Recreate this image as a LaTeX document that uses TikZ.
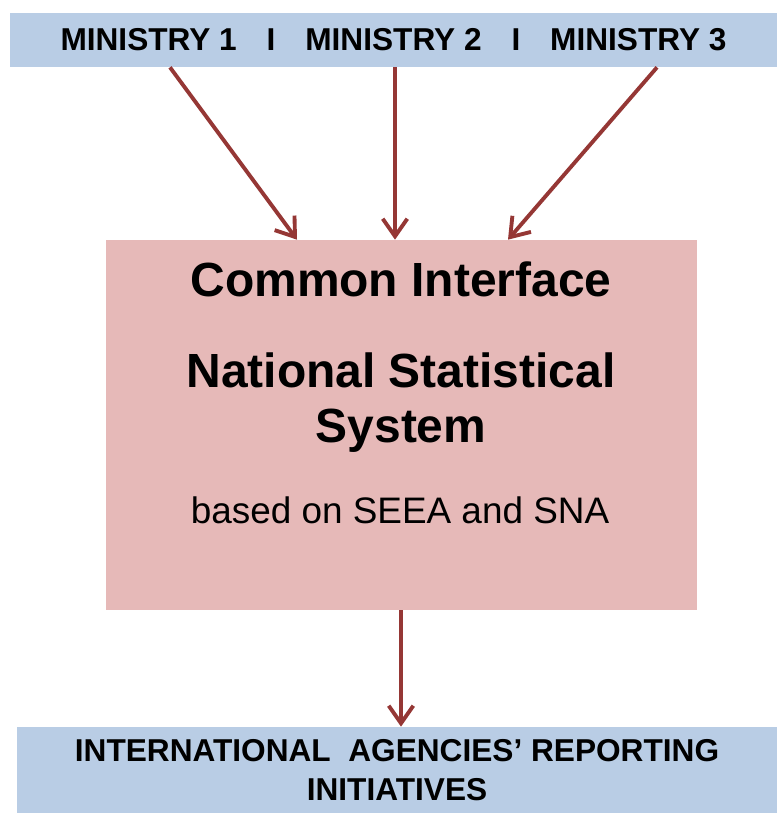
\documentclass[tikz,border=0pt]{standalone}
\usepackage{fontspec}
\setmainfont{Liberation Sans}
\usetikzlibrary{
    arrows.meta,
    calc
}
\definecolor{boxblue}{HTML}{B9CDE5}
\definecolor{boxpink}{HTML}{E6B9B8}
\definecolor{linkred}{HTML}{953735}

\begin{document}
\begin{tikzpicture}[x=0.02cm,y=-0.02cm,>={Straight Barb[length=10pt,width=14pt]}]
    \tikzstyle{bluebox}=[fill=boxblue, inner sep=0pt, font=\fontsize{18}{22}\selectfont\bfseries, align=center]
    \tikzstyle{title}=[anchor=base, inner sep=0pt, font=\fontsize{27.3}{32}\selectfont\bfseries]
    \tikzstyle{link}=[->, draw=linkred, line width=2.2pt]

    \useasboundingbox (0,0) rectangle (777,813);

    \node[bluebox, minimum width=15.34cm, minimum height=1.08cm] (MIN) at (393.5, 40)
        {MINISTRY 1\hspace{17pt}I\hspace{17pt}MINISTRY 2\hspace{17pt}I\hspace{17pt}MINISTRY 3};
    \node[fill=boxpink, minimum width=11.82cm, minimum height=7.4cm, inner sep=0pt] (CIF) at (401.5, 425) {};
    \node[bluebox, minimum width=15.2cm, minimum height=1.72cm] (INT) at (397, 770)
        {INTERNATIONAL\ \ AGENCIES’ REPORTING\\INITIATIVES};

    \node[title] (T1) at (401, 297) {Common Interface};
    \node[title] (T2) at (401, 387) {National Statistical};
    \node[title] (T3) at (401, 442) {System};
    \node[anchor=base, inner sep=0pt, font=\fontsize{21}{25}\selectfont] (T4) at (400, 523) {based on SEEA and SNA};

    \coordinate (M1) at (MIN.south -| 170,0);
    \coordinate (M2) at (MIN.south -| 395,0);
    \coordinate (M3) at (MIN.south -| 657,0);
    \coordinate (C1) at (CIF.north -| 297,0);
    \coordinate (C2) at (CIF.north -| 395,0);
    \coordinate (C3) at (CIF.north -| 508,0);

    \draw[link] (M1) -- (C1);
    \draw[link] (M2) -- (C2);
    \draw[link] (M3) -- (C3);
    \draw[link] (CIF.south -| 401,0) -- (INT.north -| 401,0);
\end{tikzpicture}
\end{document}
